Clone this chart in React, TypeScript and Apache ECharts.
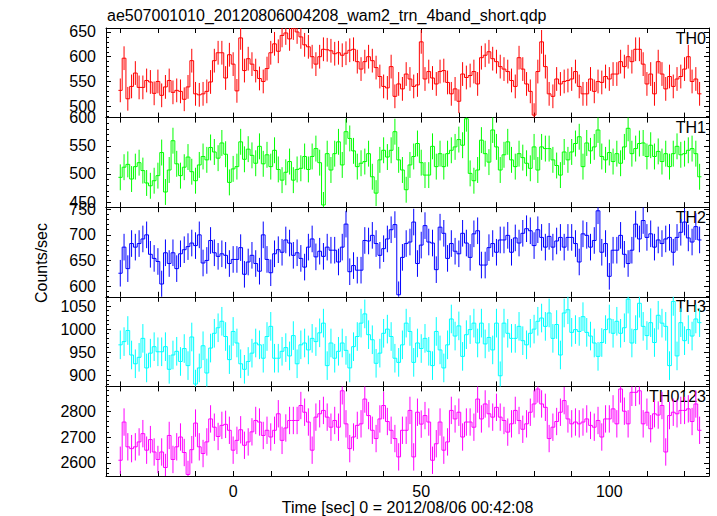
import React, { useEffect, useRef } from "react";
import * as echarts from "echarts";

const TITLE = "ae507001010_20120806004208_wam2_trn_4band_short.qdp";
const X_NAME = "Time [sec] 0 = 2012/08/06 00:42:08";
const Y_NAME = "Counts/sec";

const FIRST_BIN_CENTER = -30;
const BIN_WIDTH = 1;
const X_MIN = -33.8;
const X_MAX = 126.5;
const X_TICKS = [-30, -20, -10, 0, 10, 20, 30, 40, 50, 60, 70, 80, 90, 100, 110, 120];
const X_TICK_LABELS = [0, 50, 100];

const TH0 = [
  532, 597, 515, 540, 567, 538, 538, 552, 549, 526, 550, 522, 539, 552, 528, 532, 530, 514, 539, 592,
  525, 523, 525, 530, 549, 592, 608, 608, 557, 604, 585, 531, 638, 572, 596, 585, 572, 556, 550, 576,
  608, 626, 611, 643, 648, 636, 658, 650, 640, 624,
  620, 600, 585, 600, 615, 614, 612, 606, 608, 603, 607, 613, 615, 590, 575, 590, 600, 592, 578, 560,
  540, 537, 580, 520, 545, 535, 565, 555, 540, 543, 630, 555, 570, 557, 545, 570, 572, 548, 525, 535,
  510, 565, 558, 562, 570, 545, 598, 603, 610, 596, 590, 580, 575, 570, 552, 540,
  598, 575, 545, 530, 482, 570, 630, 580, 525, 520, 555, 545, 550, 552, 555, 570, 540, 525, 525, 555,
  530, 550, 548, 560, 555, 565, 565, 590, 580, 600, 590, 615, 615, 585, 545, 565, 525, 590, 565, 535,
  560, 540, 555, 560, 575, 600, 550, 555, 525,
];

const TH1 = [
  494, 512, 517, 491, 513, 520, 506, 484, 479,
  488, 497, 538, 468, 507, 559, 518, 497, 512,
  530, 504, 488, 516, 531, 525, 547, 539, 528,
  555, 535, 485, 509, 513, 557, 526, 544, 533,
  519, 549, 518, 534, 513, 542, 508, 489, 503,
  522, 489, 508, 510, 531, 508, 531, 545, 520,
  445, 536, 507, 536, 557, 516, 575, 563, 541,
  513, 519, 522, 536, 495, 466, 525, 542, 530,
  542, 575, 525, 507, 472, 516, 531, 554, 520,
  498, 498, 549, 513, 536, 513, 536, 542, 548,
  561, 551, 598, 501, 488, 507, 560, 536, 521,
  578, 548, 507, 534, 557, 525, 513, 536, 529,
  519, 510, 548, 507, 548, 545, 545, 525, 515,
  498, 539, 525, 539, 554, 566, 513, 555, 541,
  548, 578, 531, 525, 538, 522, 536, 519, 548,
  581, 536, 545, 554, 555, 531, 551, 531, 540,
  522, 536, 513, 536, 549, 534, 536, 542,
  545, 536, 495,
];

const TH2 = [
  625, 676, 634, 683, 676, 683, 692, 700, 662,
  654, 648, 604, 665, 644, 665, 634, 663, 671,
  677, 684, 679, 700, 645, 650, 689, 665, 658,
  663, 660, 644, 652, 652, 675, 623, 647, 660,
  644, 629, 700, 652, 626, 663, 671, 666, 690,
  684, 660, 665, 654, 637, 676, 692, 657, 668,
  658, 676, 670, 670, 647, 676, 721, 628, 640,
  631, 631, 689, 688, 699, 683, 660, 673, 692,
  710, 720, 583, 656, 683, 686, 725, 644, 680,
  718, 686, 684, 632, 715, 703, 654, 683, 668,
  663, 703, 684, 656, 702, 708, 641, 641, 675,
  683, 666, 690, 690, 699, 666, 694, 684, 703,
  712, 708, 679, 710, 695, 676, 697, 676, 688,
  695, 676, 695, 695, 683, 647, 702, 699, 676,
  689, 747, 666, 683, 619, 670, 670, 699, 662,
  644, 670, 721, 692, 728, 695, 702, 676, 690,
  683, 692, 695, 666, 695, 705, 725, 694,
  686, 716, 690,
];

const TH3 = [
  966, 973, 997, 944, 925, 939, 980, 916, 948,
  962, 951, 951, 962, 913, 944, 952, 930, 958,
  921, 983, 881, 916, 964, 905, 959, 991, 1003,
  1017, 984, 934, 995, 970, 925, 913, 930, 948,
  970, 966, 937, 984, 1006, 937, 937, 952, 960,
  942, 986, 925, 966, 970, 955, 980, 973, 992,
  1013, 921, 970, 937, 952, 970, 954, 916, 962,
  984, 1013, 1033, 988, 977, 926, 948, 991, 1000,
  984, 937, 928, 966, 1013, 995, 928, 970, 958,
  980, 952, 921, 995, 955, 916, 966, 1022, 985,
  1007, 941, 988, 999, 1013, 970, 1013, 968, 982,
  955, 1013, 899, 1013, 991, 980, 980, 1006, 975,
  966, 991, 1000, 1017, 1024, 1006, 1035, 980, 1010,
  944, 1035, 1042, 993, 999, 995, 1027, 993, 985,
  970, 941, 971, 999, 1022, 991, 1017, 991, 1003,
  1065, 970, 999, 1056, 1006, 986, 1014, 971, 1030,
  1013, 1006, 921, 1060, 942, 1014, 975, 999, 985,
  1022, 1014,
];

const TH0123 = [
  2610, 2758, 2662, 2655, 2662, 2681, 2713, 2649, 2690,
  2642, 2613, 2642, 2582, 2706, 2613, 2662, 2700, 2640,
  2555, 2651, 2754, 2662, 2636, 2681, 2770, 2738, 2702,
  2745, 2749, 2726, 2649, 2687, 2728, 2668, 2681, 2720,
  2764, 2758, 2706, 2726, 2700, 2726, 2790, 2687, 2735,
  2764, 2764, 2764, 2822, 2796, 2758, 2649, 2777, 2790,
  2803, 2777, 2738, 2764, 2738, 2879, 2751, 2655, 2700,
  2745, 2751, 2847, 2783, 2726, 2694, 2770, 2822, 2760,
  2726, 2694, 2623, 2726, 2726, 2803, 2623, 2796, 2750,
  2783, 2758, 2610, 2674, 2758, 2649, 2681, 2803, 2770,
  2796, 2700, 2758, 2758, 2738, 2847, 2770, 2828, 2790,
  2777, 2815, 2777, 2764, 2719, 2751, 2803, 2764, 2730,
  2751, 2796, 2828, 2886, 2828, 2815, 2694, 2738, 2760,
  2796, 2841, 2770, 2751, 2758, 2751, 2758, 2770, 2745,
  2738, 2764, 2700, 2770, 2770, 2809, 2751, 2886, 2800,
  2751, 2873, 2873, 2879, 2751, 2796, 2732, 2790, 2785,
  2822, 2642, 2783, 2796, 2790, 2803, 2803, 2809, 2760,
  2828, 2726,
];

// typical error-bar half lengths
const ERRORS = [24, 23, 26, 31, 53];
const NAMES = ["TH0", "TH1", "TH2", "TH3", "TH0123"];
const COLORS = ["#ff0000", "#00ff00", "#0000ff", "#00ffff", "#ff00ff"];
const Y_MIN = [477, 441, 579, 876, 2549];
const Y_MAX = [658, 600, 754, 1070, 2896];
const Y_LABELS = [
  [500, 550, 600, 650],
  [450, 500, 550, 600],
  [600, 650, 700, 750],
  [900, 950, 1000, 1050],
  [2600, 2700, 2800],
];
const Y_MINOR_STEP = [10, 10, 10, 10, 20];
const SERIES = [TH0, TH1, TH2, TH3, TH0123];

const PLOT_LEFT = 106;
const PLOT_RIGHT = 709;
const PLOT_TOP = 28;
const PANEL_H = 89.6;
const FONT = '"Liberation Sans", Arial, Helvetica, sans-serif';
const FS = 16;

function minorTicks(min: number, max: number, step: number) {
  const out: number[] = [];
  for (let v = Math.ceil(min / step) * step; v <= max; v += step) out.push(v);
  return out;
}

const plain = (v: number) => String(v);

function buildOption() {
  const grid: any[] = [];
  const xAxis: any[] = [];
  const yAxis: any[] = [];
  const series: any[] = [];
  const graphic: any[] = [];
  const axisLine = { show: true, onZero: false, lineStyle: { color: "#000", width: 1 } };

  for (let i = 0; i < 5; i++) {
    const top = PLOT_TOP + i * PANEL_H;
    grid.push({ left: PLOT_LEFT, top, width: PLOT_RIGHT - PLOT_LEFT, height: PANEL_H, outerBoundsMode: "none" });
    const isLast = i === 4;
    for (const pos of ["bottom", "top"]) {
      xAxis.push({
        type: "value",
        gridIndex: i,
        position: pos,
        min: X_MIN,
        max: X_MAX,
        axisLine,
        splitLine: { show: false },
        axisTick: { show: true, inside: true, length: 5, customValues: X_TICKS, lineStyle: { color: "#000" } },
        axisLabel: {
          show: isLast && pos === "bottom",
          customValues: X_TICK_LABELS,
          formatter: plain,
          fontSize: FS,
          fontFamily: FONT,
          color: "#000",
          margin: 7,
        },
      });
    }
    const minors = minorTicks(Y_MIN[i], Y_MAX[i], Y_MINOR_STEP[i]);
    for (const pos of ["left", "right"]) {
      yAxis.push({
        type: "value",
        gridIndex: i,
        position: pos,
        min: Y_MIN[i],
        max: Y_MAX[i],
        axisLine,
        splitLine: { show: false },
        axisTick: { show: true, inside: true, length: 5, customValues: Y_LABELS[i], lineStyle: { color: "#000" } },
        axisLabel: {
          show: pos === "left",
          customValues: Y_LABELS[i],
          formatter: plain,
          fontSize: FS,
          fontFamily: FONT,
          color: "#000",
          margin: 10,
        },
      });
    }
    for (const pos of ["left", "right"]) {
      yAxis.push({
        type: "value",
        gridIndex: i,
        position: pos,
        min: Y_MIN[i],
        max: Y_MAX[i],
        axisLine: { show: false, onZero: false },
        splitLine: { show: false },
        axisTick: { show: true, inside: true, length: 3, customValues: minors, lineStyle: { color: "#000" } },
        axisLabel: { show: false },
      });
    }

    const vals = SERIES[i];
    const err = ERRORS[i];
    const color = COLORS[i];
    const data = vals.map((v, k) => [FIRST_BIN_CENTER + k * BIN_WIDTH, v, err, k > 0 ? vals[k - 1] : v]);
    series.push({
      type: "custom",
      name: NAMES[i],
      xAxisIndex: 2 * i,
      yAxisIndex: 4 * i,
      clip: true,
      silent: true,
      encode: { x: 0, y: 1 },
      data,
      renderItem: (params: any, api: any) => {
        const t = api.value(0);
        const v = api.value(1);
        const e = api.value(2);
        const pv = api.value(3);
        const l = api.coord([t - BIN_WIDTH / 2, v]);
        const r = api.coord([t + BIN_WIDTH / 2, v]);
        const hi = api.coord([t, v + e]);
        const lo = api.coord([t, v - e]);
        const p = api.coord([t - BIN_WIDTH / 2, pv]);
        const st = { stroke: color, lineWidth: 1, fill: null };
        return {
          type: "group",
          children: [
            { type: "line", shape: { x1: hi[0], y1: hi[1], x2: lo[0], y2: lo[1] }, style: st },
            { type: "line", shape: { x1: p[0], y1: p[1], x2: l[0], y2: l[1] }, style: st },
            { type: "line", shape: { x1: l[0], y1: l[1], x2: r[0], y2: r[1] }, style: st },
          ],
        };
      },
    });

    graphic.push({
      type: "text",
      x: 706,
      y: top + 10,
      style: { text: NAMES[i], fill: "#000", font: `${FS}px ${FONT}`, align: "right", verticalAlign: "middle" },
    });
  }

  graphic.push({
    type: "text",
    x: 107,
    y: 15,
    style: { text: TITLE, fill: "#000", font: `${FS}px ${FONT}`, align: "left", verticalAlign: "middle" },
  });
  graphic.push({
    type: "text",
    x: (PLOT_LEFT + PLOT_RIGHT) / 2,
    y: 507,
    style: { text: X_NAME, fill: "#000", font: `${FS}px ${FONT}`, align: "center", verticalAlign: "middle" },
  });
  graphic.push({
    type: "text",
    x: 41,
    y: 263,
    rotation: Math.PI / 2,
    style: { text: Y_NAME, fill: "#000", font: `${FS}px ${FONT}`, align: "center", verticalAlign: "middle" },
  });

  return {
    animation: false,
    backgroundColor: "#fff",
    grid,
    xAxis,
    yAxis,
    series,
    graphic,
  };
}

export default function App() {
  const ref = useRef<HTMLDivElement>(null);
  useEffect(() => {
    if (!ref.current) return;
    const chart = echarts.init(ref.current, null, { renderer: "svg" });
    chart.setOption(buildOption() as any);
    return () => chart.dispose();
  }, []);
  return (
    <div
      ref={ref}
      style={{ position: "fixed", left: 0, top: 0, width: 717, height: 516, background: "#fff" }}
    />
  );
}
